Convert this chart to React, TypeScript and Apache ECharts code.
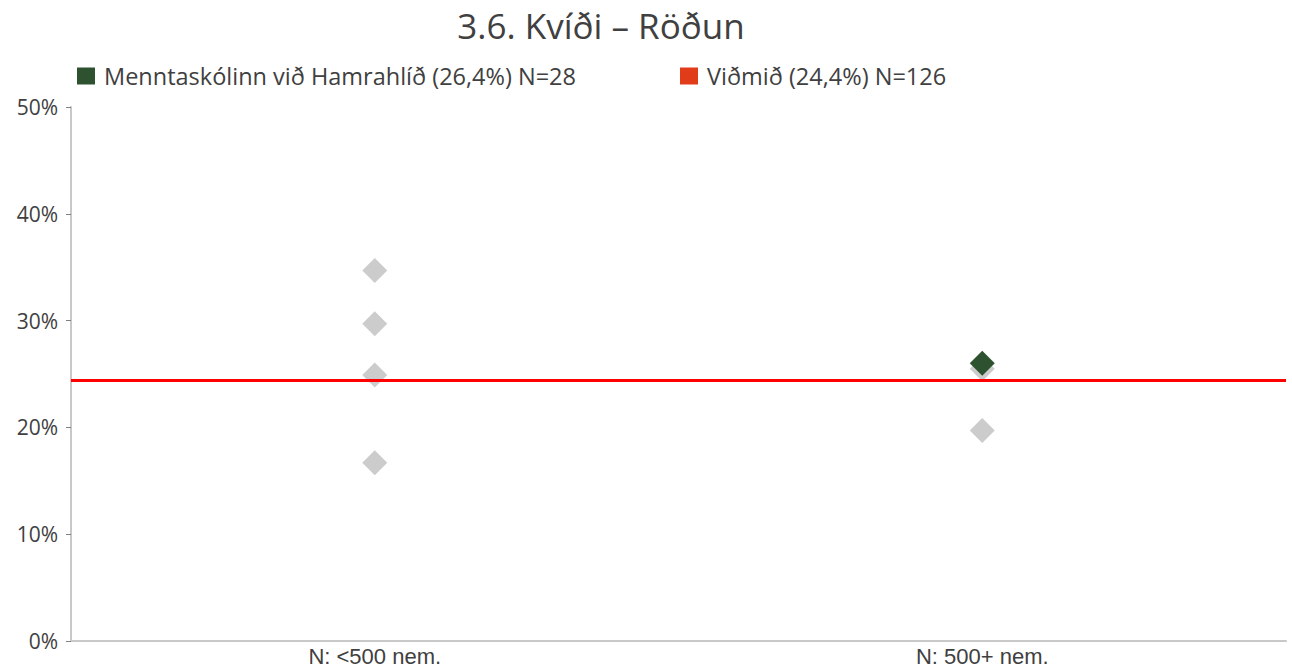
import React, { useEffect, useRef } from "react";
import * as echarts from "echarts";

const title = "3.6. Kvíði – Röðun";
const categories = ["N: <500 nem.", "N: 500+ nem."];
const otherSchools: [number, number][] = [
  [0, 34.7],
  [0, 29.7],
  [0, 24.9],
  [0, 16.7],
  [1, 25.5],
  [1, 19.7],
];
const schoolName = "Menntaskólinn við Hamrahlíð (26,4%) N=28";
const schoolPoints: [number, number][] = [[1, 26.0]];
const benchmarkName = "Viðmið (24,4%) N=126";
const benchmarkValue = 24.4;
const yTicks = { min: 0, max: 50, interval: 10 };

const FONT = "'Open Sans', sans-serif";

export default function App() {
  const ref = useRef<HTMLDivElement>(null);
  useEffect(() => {
    if (!ref.current) return;
    const chart = echarts.init(ref.current, null, { renderer: "svg" });
    const legendText = {
      fontFamily: FONT,
      fontSize: 23.5,
      color: "#404040",
      padding: [0, 0, 0, 4],
    };
    chart.setOption({
      animation: false,
      backgroundColor: "#ffffff",
      textStyle: { fontFamily: FONT },
      title: {
        text: title,
        left: 596,
        textAlign: "center",
        top: 3,
        textStyle: { fontFamily: FONT, fontSize: 35, fontWeight: "normal", color: "#404040" },
      },
      legend: [
        {
          data: [schoolName],
          left: 77,
          top: 64,
          padding: 0,
          icon: "rect",
          itemWidth: 18,
          itemHeight: 17,
          textStyle: legendText,
        },
        {
          data: [benchmarkName],
          left: 680,
          top: 64,
          padding: 0,
          icon: "rect",
          itemWidth: 18,
          itemHeight: 17,
          textStyle: legendText,
        },
      ],
      grid: { left: 71, right: 6, top: 107, bottom: 29, containLabel: false },
      xAxis: {
        type: "category",
        data: categories,
        boundaryGap: true,
        axisLine: { lineStyle: { color: "#c8c8c8", width: 2 } },
        axisTick: { show: false },
        axisLabel: {
          fontFamily: "'Liberation Sans', Arial, sans-serif",
          fontSize: 22,
          lineHeight: 22,
          color: "#404040",
          margin: 4,
        },
      },
      yAxis: {
        type: "value",
        min: yTicks.min,
        max: yTicks.max,
        interval: yTicks.interval,
        splitLine: { show: false },
        axisLine: { show: true, lineStyle: { color: "#c8c8c8", width: 2 } },
        axisTick: { show: true, length: 5, lineStyle: { color: "#808080", width: 1 } },
        axisLabel: {
          fontFamily: FONT,
          fontSize: 21,
          color: "#404040",
          margin: 13,
          formatter: (v: number) => v + "%",
        },
      },
      series: [
        {
          name: benchmarkName,
          type: "line",
          data: [],
          z: 1,
          itemStyle: { color: "#e03c1a" },
          markLine: {
            silent: true,
            symbol: "none",
            precision: 3,
            label: { show: false },
            lineStyle: { color: "#ff0000", width: 3, type: "solid" },
            data: [{ yAxis: benchmarkValue }],
          },
        },
        {
          name: "others",
          type: "scatter",
          symbol: "diamond",
          symbolSize: 25,
          z: 3,
          itemStyle: { color: "#cccccc", opacity: 1 },
          data: otherSchools,
        },
        {
          name: schoolName,
          type: "scatter",
          symbol: "diamond",
          symbolSize: 25,
          z: 4,
          itemStyle: { color: "#2e5230", opacity: 1 },
          data: schoolPoints,
        },
      ],
    });
    return () => chart.dispose();
  }, []);
  return (
    <div
      ref={ref}
      style={{ position: "fixed", left: 0, top: 0, width: 1292, height: 670, background: "#fff" }}
    />
  );
}
